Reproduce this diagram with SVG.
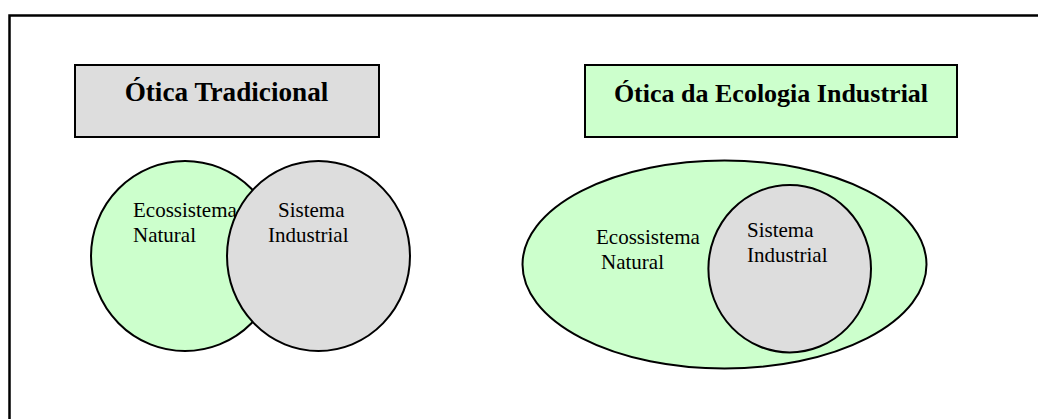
<svg xmlns="http://www.w3.org/2000/svg" width="1038" height="419" viewBox="0 0 1038 419">
<style>
.shape{stroke:#000;stroke-width:2}
.green{fill:#ccffcc}
.gray{fill:#dddddd}
.title{font-family:"Liberation Serif",serif;font-weight:bold;font-size:27.2px;fill:#000}
.label{font-family:"Liberation Serif",serif;font-size:21px;fill:#000}
</style>
<rect x="9.5" y="15.5" width="1040" height="420" fill="#fff" stroke="#000" stroke-width="2.5"/>
<g id="titulo-tradicional">
<rect class="shape gray" x="75" y="65" width="304" height="72"/>
<text class="title" x="226.5" y="101" text-anchor="middle">Ótica Tradicional</text>
</g>
<g id="titulo-ecologia">
<rect class="shape green" x="585" y="65" width="372" height="72"/>
<text class="title" x="771" y="101.5" text-anchor="middle" style="font-size:26px">Ótica da Ecologia Industrial</text>
</g>
<g id="ecossistema-tradicional">
<ellipse class="shape green" cx="185" cy="256" rx="94" ry="95"/>
<text class="label" x="133" y="217">Ecossistema</text>
<text class="label" x="133" y="242">Natural</text>
</g>
<g id="sistema-tradicional">
<ellipse class="shape gray" cx="318.5" cy="256" rx="91.5" ry="95"/>
<text class="label" x="278" y="217">Sistema</text>
<text class="label" x="268" y="242">Industrial</text>
</g>
<g id="ecossistema-ecologia">
<ellipse class="shape green" cx="724.5" cy="264.5" rx="202" ry="104"/>
<text class="label" x="596" y="243.5">Ecossistema</text>
<text class="label" x="601" y="268.5">Natural</text>
</g>
<g id="sistema-ecologia">
<ellipse class="shape gray" cx="789.7" cy="268.7" rx="81.3" ry="83.7"/>
<text class="label" x="747" y="237">Sistema</text>
<text class="label" x="747" y="262">Industrial</text>
</g>
<g id="connectors"/>
</svg>
